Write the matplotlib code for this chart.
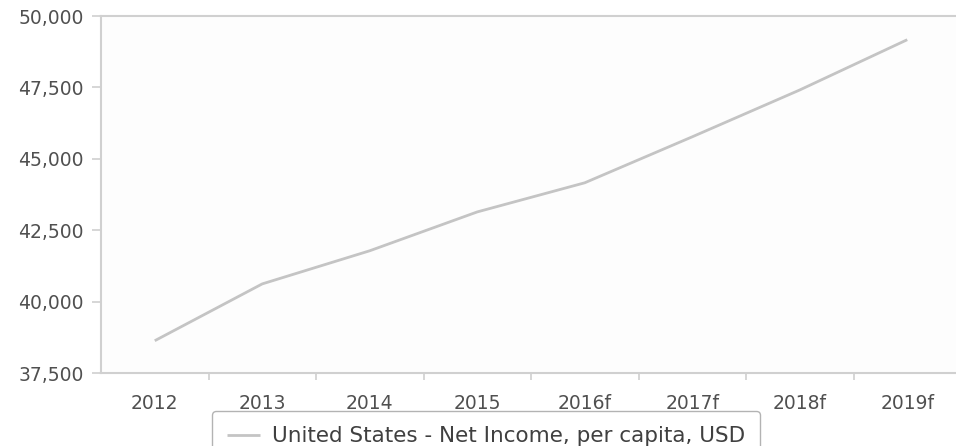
import matplotlib
matplotlib.use("Agg")
import matplotlib.pyplot as plt
from matplotlib.ticker import FuncFormatter, FixedLocator

categories = ["2012", "2013", "2014", "2015", "2016f", "2017f", "2018f", "2019f"]
values = [38630, 40620, 41780, 43140, 44160, 45770, 47410, 49170]
series_name = "United States - Net Income, per capita, USD"
yticks = [37500, 40000, 42500, 45000, 47500, 50000]

plt.rcParams['font.family'] = ['DejaVu Sans']
fig = plt.figure(figsize=(9.56, 4.46), dpi=100)
fig.patch.set_facecolor("white")
ax = fig.add_axes([101/956, 73/446, 860/956, 357/446])
ax.set_facecolor("#fdfdfd")

x = list(range(len(categories)))
ax.plot(x, values, color="#c4c4c4", lw=2.0, solid_capstyle="butt", label=series_name)

ax.set_xlim(-0.5, len(categories) - 0.5)
ax.set_ylim(37500, 50000)
ax.set_yticks(yticks)
ax.yaxis.set_major_formatter(FuncFormatter(lambda v, p: f"{int(v):,}"))
ax.set_xticks(x)
ax.set_xticklabels(categories)
ax.xaxis.set_minor_locator(FixedLocator([i + 0.5 for i in range(len(categories) - 1)]))

grey = "#d0d0d0"
txt = "#505050"
for s in ["left", "top", "bottom"]:
    ax.spines[s].set_color(grey)
    ax.spines[s].set_linewidth(1.5)
ax.spines["right"].set_visible(False)

ax.tick_params(axis="y", length=6.5, width=1.2, color=grey, pad=6, labelsize=13.5, labelcolor=txt)
ax.tick_params(axis="x", which="major", length=0, pad=15, labelsize=13.5, labelcolor=txt)
ax.tick_params(axis="x", which="minor", length=5, width=1.2, color=grey)

leg = fig.legend(loc="upper center", bbox_to_anchor=(486/956, 1 - 411/446),
                 frameon=True, fancybox=True, fontsize=15.5, handlelength=1.55,
                 borderpad=0.7, handletextpad=0.55, borderaxespad=0)
leg.get_frame().set_edgecolor("#a0a0a0")
leg.get_frame().set_linewidth(1.0)
for t in leg.get_texts():
    t.set_color("#404040")

fig.savefig("out.png", dpi=100, facecolor="white")
